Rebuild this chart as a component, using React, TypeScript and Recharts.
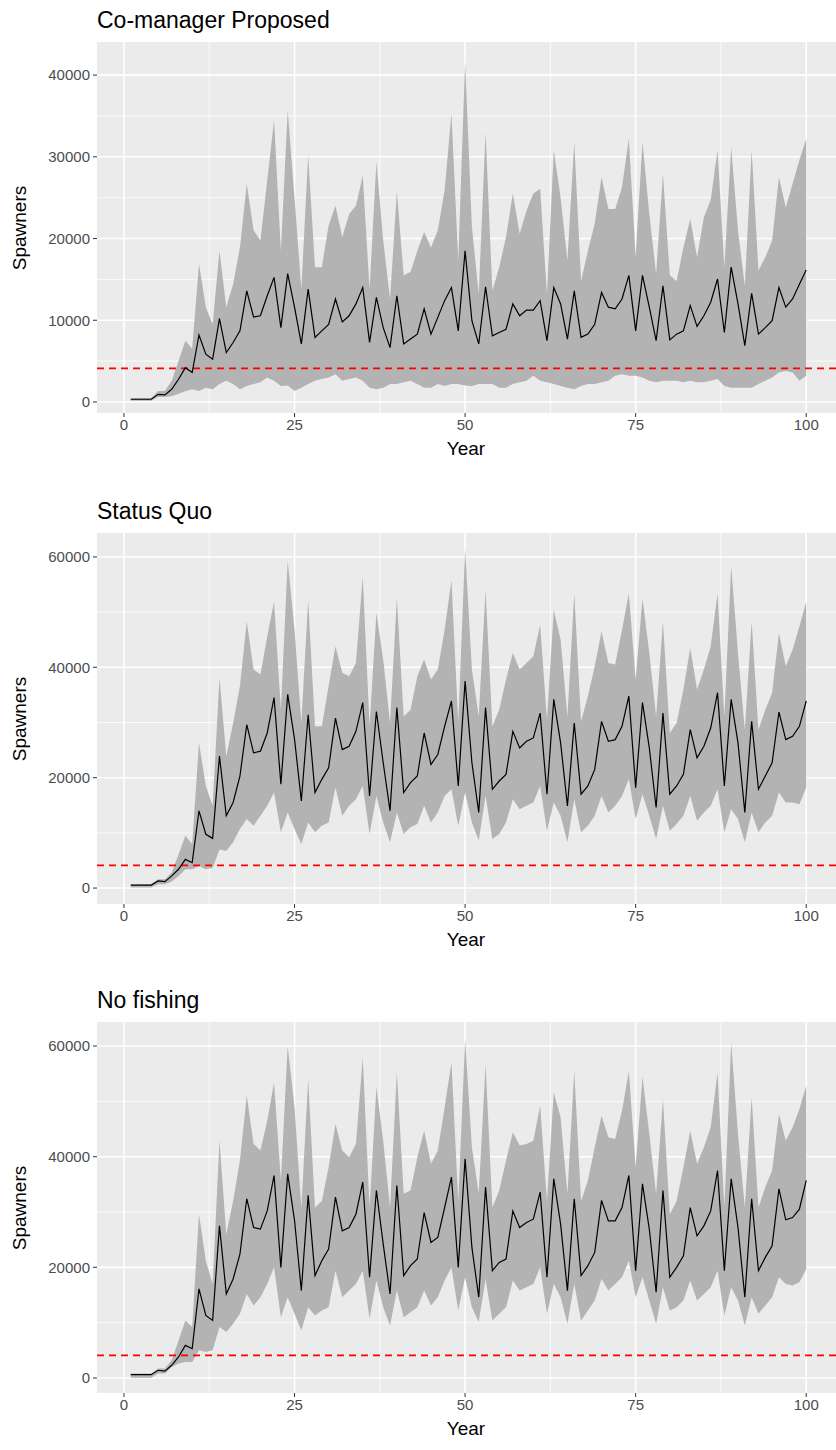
import React from 'react';
import { ComposedChart, Area, Line, XAxis, YAxis, CartesianGrid, ReferenceLine } from 'recharts';

// simulated spawners by year, three harvest scenarios
const years = Array.from({ length: 100 }, (_, i) => i + 1);

const cmMedian = [330, 330, 330, 330, 940, 860, 1550, 2780, 4200, 3600, 8200, 5850, 5240, 10200, 6050, 7280, 8700, 13600, 10400, 10550, 13000, 15250, 9100, 15700, 11600, 7100, 13800, 7900, 8700, 9500, 12600, 9800, 10550, 12000, 14000, 7300, 12800, 9100, 6650, 13000, 7100, 7700, 8300, 11400, 8300, 10350, 12400, 14000, 8700, 18500, 9940, 7100, 14100, 8100, 8500, 8900, 12000, 10550, 11250, 11250, 12400, 7500, 14000, 12000, 7700, 13600, 7900, 8300, 9500, 13400, 11600, 11400, 12600, 15500, 8700, 15500, 11600, 7500, 14200, 7600, 8300, 8700, 11800, 9250, 10550, 12200, 15050, 8500, 16500, 12000, 6900, 13300, 8300, 9100, 9950, 14000, 11600, 12600, 14400, 16150];
const cmUpper = [450, 450, 450, 450, 1350, 1350, 2600, 5000, 7500, 6500, 16900, 11600, 9500, 18500, 11600, 14400, 18900, 26700, 21000, 19750, 27100, 34500, 18500, 35700, 25000, 13800, 30200, 16500, 16500, 21600, 24000, 20200, 23000, 24000, 27700, 13800, 29400, 19750, 12600, 25700, 15500, 15900, 18500, 20800, 18900, 21000, 25900, 35300, 17300, 41700, 21400, 13200, 33000, 13600, 16500, 20200, 25500, 20600, 23400, 25500, 26100, 13200, 30800, 25000, 17300, 31800, 14800, 18500, 21800, 27500, 23600, 23600, 26300, 32200, 17800, 31800, 23000, 15700, 27900, 15500, 14800, 18900, 22400, 17700, 22600, 24700, 30800, 16500, 31200, 21000, 14200, 30800, 16100, 17700, 19750, 27500, 23800, 26700, 29600, 32200];
const cmLower = [150, 150, 150, 150, 600, 600, 700, 1000, 1300, 1550, 1350, 1750, 1550, 2200, 2600, 2200, 1550, 1950, 2200, 2400, 3000, 2600, 1950, 2000, 1350, 1750, 2200, 2600, 2800, 3000, 3400, 2600, 2800, 3000, 2600, 1750, 1550, 1750, 2200, 2200, 2400, 2600, 2200, 1750, 1750, 2200, 1950, 2200, 2200, 2000, 1950, 2200, 2200, 2200, 1750, 1750, 2200, 2400, 2600, 3200, 2600, 2400, 2200, 1950, 1750, 1550, 1950, 2200, 2200, 2400, 2600, 3200, 3400, 3200, 3200, 3000, 2600, 2400, 2600, 2600, 2600, 2400, 2600, 2400, 2400, 2600, 2800, 1950, 1750, 1750, 1750, 1750, 2200, 2600, 3000, 3600, 3800, 3600, 2600, 3200];

const sqMedian = [540, 540, 540, 540, 1300, 1150, 2200, 3400, 5200, 4600, 14000, 9750, 9000, 23900, 13100, 15500, 20300, 29600, 24500, 24800, 28100, 34500, 18800, 35100, 27000, 15800, 31400, 17300, 19700, 21800, 30800, 25100, 25700, 28400, 33600, 16700, 32000, 22700, 14000, 32700, 17300, 19100, 20300, 28100, 22400, 24200, 29300, 33900, 18500, 37500, 22700, 13700, 32700, 17900, 19400, 20600, 28400, 25400, 26600, 27200, 31700, 17000, 34200, 26300, 14900, 29900, 17000, 18500, 21500, 30200, 26600, 26900, 29300, 34800, 18200, 33600, 25400, 14600, 31700, 17000, 18500, 20600, 28700, 23600, 25700, 29000, 35400, 18500, 34200, 26300, 13700, 30200, 17900, 20300, 22700, 31900, 26900, 27500, 29300, 33900];
const sqUpper = [700, 700, 700, 700, 1600, 1600, 2800, 6100, 9500, 8000, 26300, 18500, 14900, 38100, 23900, 29900, 36600, 48300, 39600, 38700, 45600, 51900, 32300, 59300, 46800, 29900, 52200, 29300, 29300, 36600, 43800, 39000, 38400, 40800, 56400, 29300, 49800, 41400, 29900, 52500, 31100, 32300, 38400, 41400, 37800, 39600, 46800, 55800, 29900, 61500, 39600, 31100, 54000, 29300, 32300, 37800, 42600, 39600, 40800, 42000, 47700, 30500, 50400, 45000, 31100, 53400, 30200, 34800, 40200, 46500, 40800, 40500, 46800, 53400, 37800, 52500, 42600, 31100, 48300, 28100, 29900, 36000, 43500, 36000, 39600, 43800, 53400, 31100, 58300, 42600, 28700, 48300, 28700, 32300, 35400, 46200, 40200, 43200, 47400, 51900];
const sqLower = [100, 100, 100, 100, 700, 700, 1200, 2200, 3400, 3400, 4000, 3400, 3700, 7000, 6700, 8300, 10700, 12500, 11300, 13100, 14900, 17300, 10100, 13700, 10700, 8000, 11900, 10100, 11300, 11900, 18200, 13100, 14900, 16100, 18500, 9800, 16700, 11900, 8300, 13700, 9800, 11000, 11600, 14900, 11900, 13700, 16700, 17900, 11300, 17300, 11900, 8600, 16700, 8900, 9800, 11900, 16100, 14300, 14900, 15500, 18500, 10400, 15500, 13100, 8300, 16100, 10100, 11300, 13100, 16700, 13700, 14900, 16700, 19700, 12500, 17000, 13100, 8900, 14900, 10400, 11600, 13100, 16700, 12200, 13700, 14900, 17900, 10100, 14300, 12500, 8300, 13700, 10100, 11900, 13100, 17300, 15500, 15500, 15200, 18200];

const nfMedian = [600, 600, 600, 600, 1400, 1250, 2300, 3800, 5900, 5300, 16100, 11300, 10400, 27500, 15200, 17900, 22400, 32400, 27200, 26900, 30200, 36600, 20000, 36900, 28500, 15800, 33000, 18500, 21200, 23300, 32700, 26600, 27200, 29600, 35400, 18200, 33900, 24200, 15200, 34800, 18500, 20300, 21500, 29900, 24500, 25400, 30800, 36300, 20000, 39600, 23600, 14600, 34500, 19400, 20900, 21500, 30200, 27200, 28100, 28700, 33600, 18200, 36000, 27800, 15800, 32400, 18500, 20300, 22700, 32100, 28400, 28400, 30800, 36600, 19400, 35100, 26900, 15500, 33900, 18200, 20000, 22100, 30800, 25700, 27500, 30200, 37500, 19400, 36000, 27200, 14600, 32400, 19400, 21800, 23900, 34200, 28600, 29000, 30500, 35700];
const nfUpper = [800, 800, 800, 800, 1700, 1700, 3200, 6800, 10400, 9200, 29600, 21200, 17000, 42900, 26000, 32000, 39300, 51000, 42300, 41100, 46500, 53400, 35700, 60000, 48900, 30800, 54000, 30800, 32000, 38100, 45900, 41100, 39900, 42300, 57900, 30800, 52500, 42900, 30800, 55200, 33300, 33900, 39900, 44700, 38700, 41100, 48900, 57000, 32000, 61200, 41700, 33300, 56700, 30800, 33900, 39300, 44400, 42000, 42300, 42900, 49200, 32000, 51600, 47100, 33300, 55500, 32000, 35700, 41700, 47400, 43500, 43200, 48300, 55500, 38100, 54500, 44100, 33300, 50400, 29600, 32000, 38100, 44700, 38700, 41700, 45300, 55200, 30800, 60600, 44100, 30800, 50700, 30800, 34500, 37500, 47700, 42900, 45300, 48600, 52800];
const nfLower = [50, 50, 50, 50, 800, 800, 2000, 2600, 2900, 2900, 5000, 4700, 5000, 9200, 8300, 9800, 11600, 15200, 13100, 14600, 17000, 20000, 11000, 14600, 11600, 8600, 12800, 11300, 12200, 12800, 19400, 14600, 15800, 17000, 19400, 10700, 17600, 12800, 9500, 15800, 11000, 11900, 12800, 15800, 13100, 14600, 17600, 20000, 12200, 18200, 12800, 10100, 17900, 10400, 11600, 12800, 17600, 15800, 16400, 17000, 20000, 11600, 17000, 14600, 9800, 17000, 10400, 12200, 14000, 17900, 15800, 17000, 18200, 21200, 14600, 18200, 14000, 9800, 16400, 12200, 12800, 14000, 17600, 14000, 15200, 16400, 19400, 11300, 16400, 14000, 9500, 14600, 11600, 13100, 14600, 18200, 17000, 16700, 17300, 19700];

const threshold = 4100;
const xTicks = [0, 25, 50, 75, 100];
const xMinor = [12.5, 37.5, 62.5, 87.5];

const FONT = '"Liberation Sans", Arial, sans-serif';

function Panel({ top, title, median, lower, upper, yDomain, yTicks, yMinor }) {
  const data = years.map((year, i) => ({
    year,
    median: median[i],
    band: [lower[i], upper[i]],
  }));
  const plotH = 371;

  return (
    <div style={{ position: 'absolute', left: 0, top, width: 840, height: 480 }}>
      <div style={{ position: 'absolute', left: 97, top: 8, fontSize: 23, lineHeight: '24px', color: '#000', whiteSpace: 'nowrap' }}>
        {title}
      </div>
      <div
        style={{
          position: 'absolute', left: 20, top: 42 + plotH / 2, fontSize: 19, whiteSpace: 'nowrap',
          transform: 'translate(-50%, -50%) rotate(-90deg)', color: '#000',
        }}
      >
        Spawners
      </div>
      <div style={{ position: 'absolute', left: 466, top: 42 + plotH + 36, fontSize: 19, lineHeight: '20px', transform: 'translate(-50%, -50%)', color: '#000' }}>
        Year
      </div>
      <div style={{ position: 'absolute', left: 0, top: 42 }}>
        <ComposedChart width={840} height={plotH + 30} data={data} margin={{ top: 0, right: 0, bottom: 0, left: 0 }}>
          <CartesianGrid fill="#EBEBEB" stroke="#FFFFFF" strokeWidth={0.8} horizontalValues={yMinor} verticalValues={xMinor} />
          <CartesianGrid stroke="#FFFFFF" strokeWidth={1.6} horizontalValues={yTicks} verticalValues={xTicks} />
          <XAxis
            type="number"
            dataKey="year"
            domain={[-3.95, 104.95]}
            ticks={xTicks}
            allowDataOverflow
            height={30}
            axisLine={false}
            tickSize={4}
            tickLine={{ stroke: '#333333' }}
            tick={{ fill: '#4D4D4D', fontSize: 15, fontFamily: FONT }}
          />
          <YAxis
            type="number"
            domain={yDomain}
            ticks={yTicks}
            allowDataOverflow
            width={97}
            axisLine={false}
            tickSize={4}
            tickMargin={3}
            tickLine={{ stroke: '#333333' }}
            tick={{ fill: '#4D4D4D', fontSize: 15, fontFamily: FONT }}
            tickFormatter={(v) => String(v)}
          />
          <Area type="linear" dataKey="band" fill="#B3B3B3" fillOpacity={1} stroke="none" isAnimationActive={false} />
          <ReferenceLine y={threshold} stroke="#FF0000" strokeWidth={1.8} strokeDasharray="7 5" />
          <Line type="linear" dataKey="median" stroke="#000000" strokeWidth={1.2} dot={false} isAnimationActive={false} />
        </ComposedChart>
      </div>
    </div>
  );
}

export default function App() {
  return (
    <div style={{ position: 'absolute', left: 0, top: 0, width: 836, height: 1450, overflow: 'hidden', background: '#FFFFFF', fontFamily: FONT }}>
      <Panel
        top={0}
        title="Co-manager Proposed"
        median={cmMedian}
        lower={cmLower}
        upper={cmUpper}
        yDomain={[-1350, 44050]}
        yTicks={[0, 10000, 20000, 30000, 40000]}
        yMinor={[5000, 15000, 25000, 35000]}
      />
      <Panel
        top={491}
        title="Status Quo"
        median={sqMedian}
        lower={sqLower}
        upper={sqUpper}
        yDomain={[-2890, 64340]}
        yTicks={[0, 20000, 40000, 60000]}
        yMinor={[10000, 30000, 50000]}
      />
      <Panel
        top={980}
        title="No fishing"
        median={nfMedian}
        lower={nfLower}
        upper={nfUpper}
        yDomain={[-2710, 64340]}
        yTicks={[0, 20000, 40000, 60000]}
        yMinor={[10000, 30000, 50000]}
      />
    </div>
  );
}
